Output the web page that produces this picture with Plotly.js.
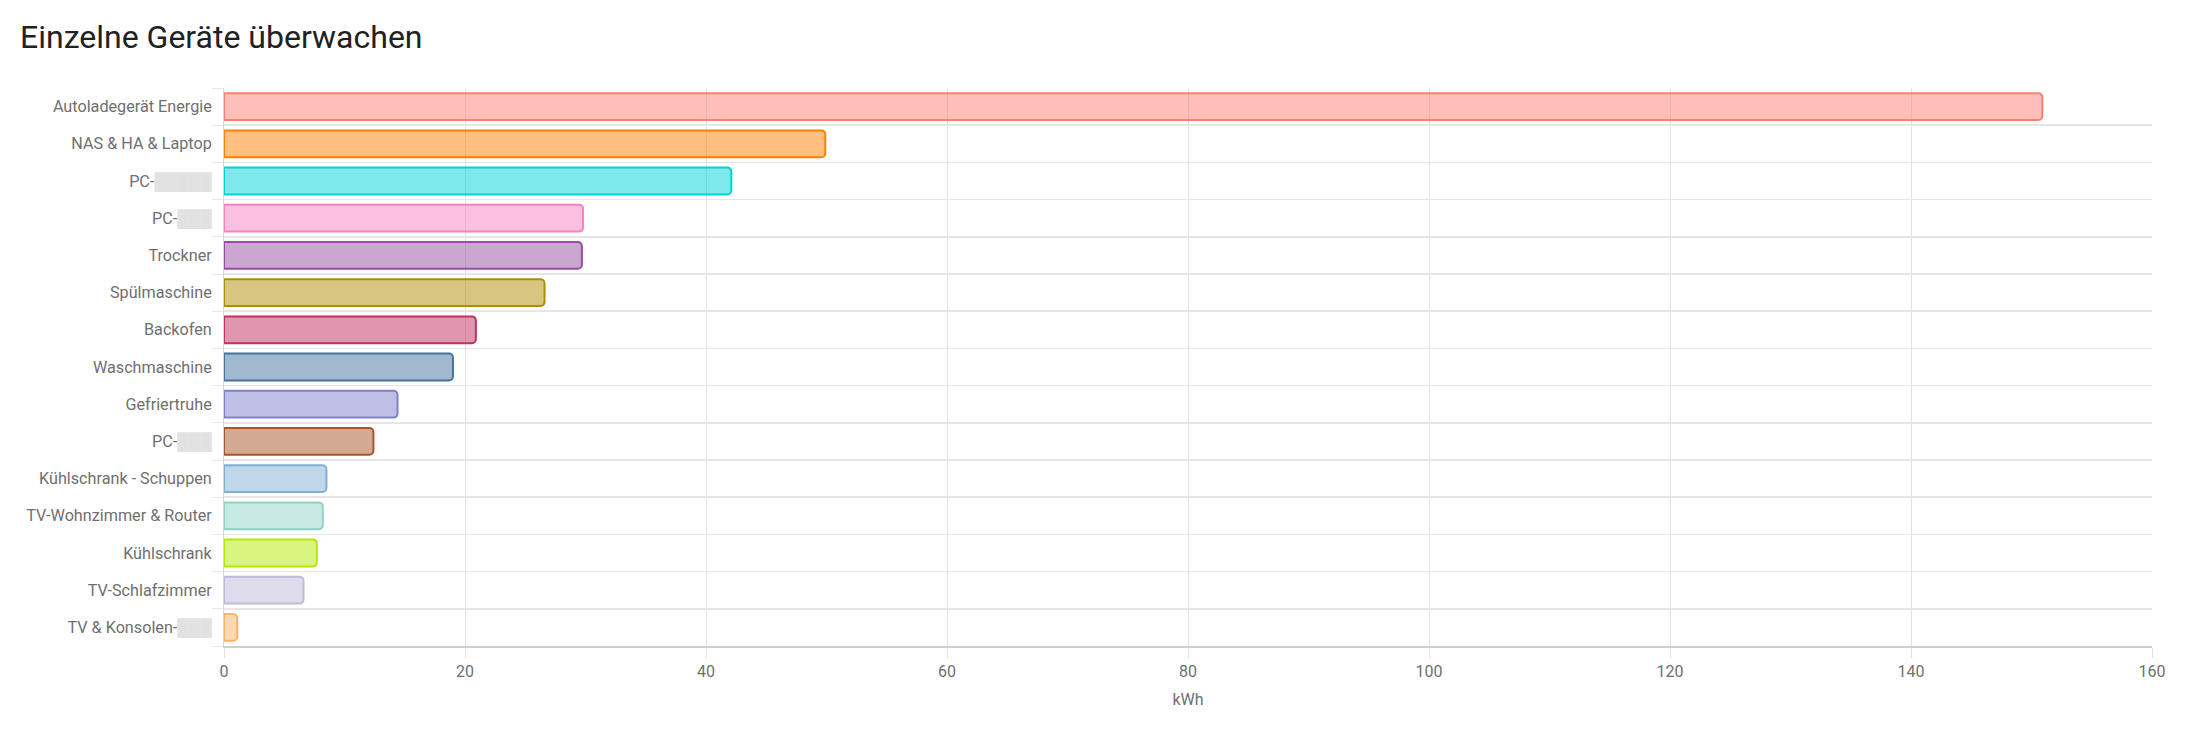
<!DOCTYPE html>
<html>
<head>
<meta charset="utf-8">
<script src="https://cdn.plot.ly/plotly-3.0.1.min.js"></script>
<style>
html,body{margin:0;padding:0;background:#fff;}
#chart{width:2188px;height:730px;}
</style>
</head>
<body>
<div id="chart"></div>
<script>
function blur(n){ return "<span style='color:#e2e2e2'>" + "\u2588".repeat(n) + "</span>"; }
const categories = [
  "Autoladegerät Energie",
  "NAS & HA & Laptop",
  "PC-" + blur(5),
  "PC-" + blur(3),
  "Trockner",
  "Spülmaschine",
  "Backofen",
  "Waschmaschine",
  "Gefriertruhe",
  "PC-" + blur(3),
  "Kühlschrank - Schuppen",
  "TV-Wohnzimmer & Router",
  "Kühlschrank",
  "TV-Schlafzimmer",
  "TV & Konsolen-" + blur(3)
];
const valuesKWh = [150.9, 49.9, 42.1, 29.8, 29.7, 26.6, 20.9, 19.0, 14.4, 12.4, 8.5, 8.2, 7.7, 6.6, 1.1];
const borderColors = ["#fb8072","#ff7f00","#00d2d5","#f781bf","#984ea3","#af8d00","#c42e60","#44739e","#7f80cd","#a65628","#80b1d3","#8dd3c7","#b3e900","#bebada","#fdb462"];
const xTicks = [0,20,40,60,80,100,120,140,160];

function hexToRgba(h,a){
  const n=parseInt(h.slice(1),16);
  return `rgba(${(n>>16)&255},${(n>>8)&255},${n&255},${a})`;
}
const ids = categories.map((c,i)=>"c"+i);

const trace = {
  type:"bar",
  orientation:"h",
  y: ids,
  x: valuesKWh,
  marker:{
    color: borderColors.map(c=>hexToRgba(c,0.5)),
    line:{color: borderColors, width:2},
    cornerradius: 4
  },
  hoverinfo:"none"
};

const layout = {
  width:2188, height:730,
  paper_bgcolor:"#fff", plot_bgcolor:"#fff",
  margin:{l:224, r:36, t:88, b:84},
  font:{family:"Roboto, sans-serif", color:"#6f6f6f", size:16},
  title:{text:"Einzelne Geräte überwachen", x:20/2188, xref:"container", xanchor:"left",
         font:{family:"Roboto, sans-serif", size:32, color:"#212121"},
         y:0.965, yref:"container", yanchor:"top"},
  bargap:0.28,
  showlegend:false,
  xaxis:{
    range:[0,160], tickvals:xTicks, ticktext:xTicks.map(String),
    showgrid:true, gridcolor:"#e2e2e2", gridwidth:1,
    zeroline:false, showline:true, linecolor:"#cfcfcf", linewidth:2,
    ticks:"outside", ticklen:10, tickcolor:"#e2e2e2",
    tickfont:{size:16, color:"#6f6f6f"},
    title:{text:"kWh", font:{size:16, color:"#6f6f6f"}, standoff:14}
  },
  yaxis:{
    type:"category", autorange:"reversed",
    tickvals: ids, ticktext: categories,
    tickson:"boundaries", showgrid:true, gridcolor:"#e6e6e6", gridwidth:1.5,
    ticks:"outside", ticklen:11, tickcolor:"#e6e6e6",
    ticklabelstandoff:8,
    showline:true, linecolor:"#d6d6d6", linewidth:1,
    zeroline:false,
    tickfont:{size:16.2, color:"#6f6f6f"}
  }
};

Plotly.newPlot("chart",[trace],layout,{displayModeBar:false, staticPlot:true});
</script>
</body>
</html>
